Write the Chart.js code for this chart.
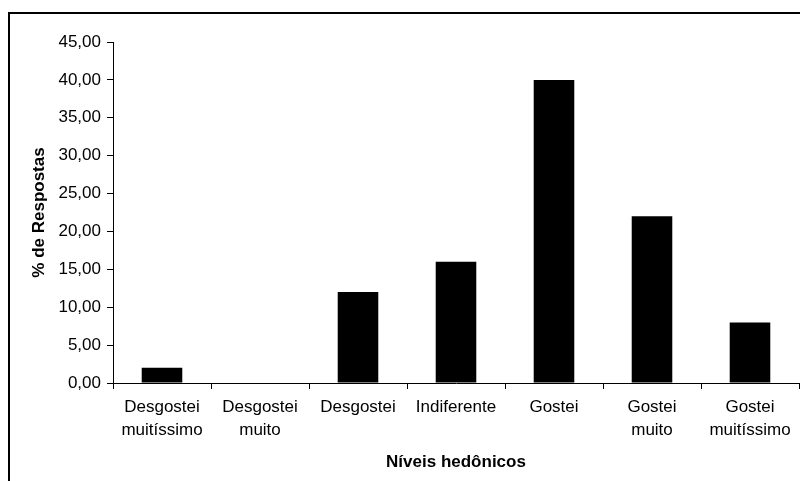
<!DOCTYPE html>
<html>
<head>
<meta charset="utf-8">
<script src="https://cdn.jsdelivr.net/npm/chart.js@4/dist/chart.umd.min.js"></script>
<style>
  html, body { margin: 0; padding: 0; background: #fff; }
  #wrap { width: 800px; height: 481px; }
</style>
</head>
<body>
<div id="wrap"><canvas id="hedonic"></canvas></div>
<script>
// Data
var levels = [
  ['Desgostei', 'muitíssimo'],
  ['Desgostei', 'muito'],
  'Desgostei',
  'Indiferente',
  'Gostei',
  ['Gostei', 'muito'],
  ['Gostei', 'muitíssimo']
];
var responses = [2, 0, 12, 16, 40, 22, 8];
var yMin = 0;
var yMax = 45;
var yStep = 5;

var axisColor = '#000';
var barColor = '#000';
Chart.defaults.font.family = '"Liberation Sans", Arial, sans-serif';
Chart.defaults.color = '#000';

// outer frame around the chart
var framePlugin = {
  id: 'frame',
  beforeDraw: function (chart) {
    var ctx = chart.ctx;
    ctx.save();
    ctx.fillStyle = '#fff';
    ctx.fillRect(0, 0, chart.width, chart.height);
    ctx.strokeStyle = '#000';
    ctx.lineWidth = 2;
    ctx.strokeRect(9, 13, chart.width + 20, chart.height + 20);
    ctx.restore();
  }
};

var hedonicChart = new Chart(document.getElementById('hedonic'), {
  type: 'bar',
  data: {
    labels: levels,
    datasets: [
      {
        data: responses,
        backgroundColor: barColor,
        borderColor: barColor,
        borderWidth: 0,
        barPercentage: 0.414,
        categoryPercentage: 1
      }
    ]
  },
  options: {
    responsive: true,
    maintainAspectRatio: false,
    animation: false,
    layout: {
      padding: { left: 29, top: 42, right: 1, bottom: 8 }
    },
    plugins: {
      legend: { display: false },
      tooltip: { enabled: false }
    },
    scales: {
      x: {
        offset: true,
        afterFit: function (scale) { scale.height = 90; },
        grid: {
          offset: true,
          drawOnChartArea: false,
          drawTicks: true,
          tickLength: 6,
          color: axisColor,
          lineWidth: 1
        },
        border: { color: axisColor, width: 1 },
        ticks: {
          font: { size: 17, lineHeight: 1.35 },
          padding: 7,
          maxRotation: 0,
          autoSkip: false
        },
        title: {
          display: true,
          text: 'Níveis hedônicos',
          font: { size: 17, weight: 'bold' },
          padding: { top: 8, bottom: 0 }
        }
      },
      y: {
        min: yMin,
        max: yMax,
        afterFit: function (scale) { scale.width = 84; },
        grid: {
          drawOnChartArea: false,
          drawTicks: true,
          tickLength: 6,
          color: axisColor
        },
        border: { color: axisColor, width: 1 },
        ticks: {
          stepSize: yStep,
          font: { size: 17 },
          padding: 6,
          callback: function (v) { return v.toFixed(2).replace('.', ','); }
        },
        title: {
          display: true,
          text: '% de Respostas',
          font: { size: 17, weight: 'bold' },
          padding: { top: 0, bottom: 12 }
        }
      }
    }
  },
  plugins: [framePlugin]
});
</script>
</body>
</html>
